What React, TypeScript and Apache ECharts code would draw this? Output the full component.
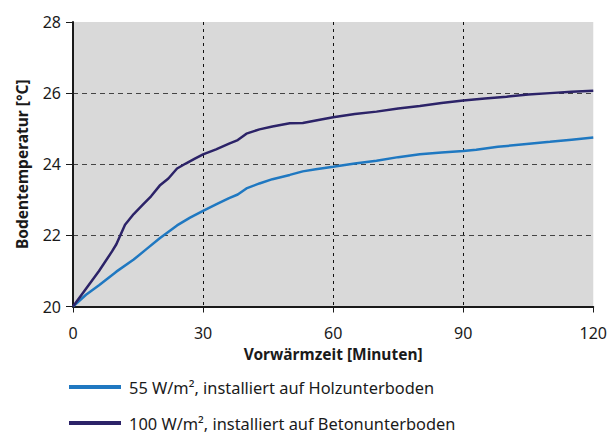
import React, { useEffect, useRef } from "react";
import * as echarts from "echarts";

const xTicks = [0, 30, 60, 90, 120];
const yTicks = [20, 22, 24, 26, 28];

const seriesNames = [
  "55 W/m², installiert auf Holzunterboden",
  "100 W/m², installiert auf Betonunterboden",
];

const holzTime = [0, 3, 6, 10, 14, 17, 20, 24, 27, 30, 33, 36, 38, 40, 43, 46, 50, 53, 56, 60, 65, 70, 75, 80, 85, 90, 93, 98, 104, 110, 115, 120];
const holzTemp = [20.0, 20.33, 20.6, 20.98, 21.32, 21.62, 21.92, 22.28, 22.5, 22.69, 22.87, 23.05, 23.15, 23.32, 23.46, 23.58, 23.7, 23.8, 23.86, 23.93, 24.02, 24.1, 24.2, 24.28, 24.33, 24.37, 24.41, 24.49, 24.56, 24.63, 24.69, 24.75];

const betonTime = [0, 3, 6, 9, 10, 12, 14, 16, 18, 20, 22, 24, 26, 28, 30, 33, 36, 38, 40, 43, 46, 50, 53, 56, 60, 65, 70, 75, 80, 85, 90, 95, 100, 105, 110, 115, 120];
const betonTemp = [20.0, 20.5, 21.0, 21.55, 21.75, 22.3, 22.6, 22.85, 23.1, 23.4, 23.6, 23.88, 24.02, 24.15, 24.28, 24.42, 24.58, 24.68, 24.86, 24.98, 25.06, 25.15, 25.16, 25.23, 25.32, 25.41, 25.48, 25.57, 25.64, 25.72, 25.79, 25.85, 25.9, 25.96, 26.0, 26.04, 26.07];

const colors = ["#1f78c1", "#2c2368"];
const FONT = "Noto Sans";
const TEXT = "#1a1a1a";

export default function App() {
  const ref = useRef<HTMLDivElement>(null);
  useEffect(() => {
    if (!ref.current) return;
    const chart = echarts.init(ref.current, null, { renderer: "svg" });
    const zip = (xs: number[], ys: number[]) => xs.map((x, i) => [x, ys[i]]);
    const legendBase = {
      orient: "vertical",
      left: 69,
      itemWidth: 52,
      itemHeight: 4,
      icon: "rect",
      padding: 0,
      textStyle: { fontFamily: FONT, fontSize: 16.4, color: TEXT, lineHeight: 20, padding: [0, 0, 0, 3] },
    };
    chart.setOption({
      animation: false,
      textStyle: { fontFamily: FONT },
      grid: {
        left: 73,
        right: 14,
        top: 22,
        bottom: 126.5,
        show: true,
        backgroundColor: "#d9d9d9",
        borderWidth: 0,
      },
      legend: [
        { ...legendBase, top: 377, data: [seriesNames[0]] },
        { ...legendBase, top: 413, data: [seriesNames[1]] },
      ],
      xAxis: {
        type: "value",
        min: xTicks[0],
        max: xTicks[xTicks.length - 1],
        interval: 30,
        name: "Vorwärmzeit [Minuten]",
        nameLocation: "middle",
        nameGap: 39,
        nameTextStyle: { fontFamily: FONT, fontSize: 15.5, fontWeight: "bold", color: TEXT },
        axisLine: { show: true, lineStyle: { color: "#1a1a1a", width: 2 } },
        axisTick: { show: true, length: 6, lineStyle: { color: "#1a1a1a", width: 1 } },
        axisLabel: { margin: 18, fontFamily: FONT, fontSize: 16, color: TEXT },
        splitLine: {
          show: true,
          showMinLine: false,
          showMaxLine: false,
          lineStyle: { color: "#111", width: 1, type: [3, 4] },
        },
      },
      yAxis: {
        type: "value",
        min: yTicks[0],
        max: yTicks[yTicks.length - 1],
        interval: 2,
        name: "Bodentemperatur [°C]",
        nameLocation: "middle",
        nameGap: 43,
        nameTextStyle: { fontFamily: FONT, fontSize: 15.5, fontWeight: "bold", color: TEXT },
        axisLine: { show: true, lineStyle: { color: "#1a1a1a", width: 2 } },
        axisTick: { show: true, length: 7, lineStyle: { color: "#1a1a1a", width: 1 } },
        axisLabel: { margin: 12, fontFamily: FONT, fontSize: 16, color: TEXT },
        splitLine: {
          show: true,
          showMinLine: false,
          showMaxLine: false,
          lineStyle: { color: "#444", width: 1, type: [5, 4] },
        },
      },
      series: [
        {
          name: seriesNames[0],
          type: "line",
          data: zip(holzTime, holzTemp),
          showSymbol: false,
          symbol: "none",
          lineStyle: { color: colors[0], width: 2.5 },
          itemStyle: { color: colors[0] },
          z: 3,
        },
        {
          name: seriesNames[1],
          type: "line",
          data: zip(betonTime, betonTemp),
          showSymbol: false,
          symbol: "none",
          lineStyle: { color: colors[1], width: 2.5 },
          itemStyle: { color: colors[1] },
          z: 4,
        },
      ],
    });
    return () => chart.dispose();
  }, []);
  return <div ref={ref} style={{ width: 610, height: 433, position: "absolute", left: 0, top: 0 }} />;
}
